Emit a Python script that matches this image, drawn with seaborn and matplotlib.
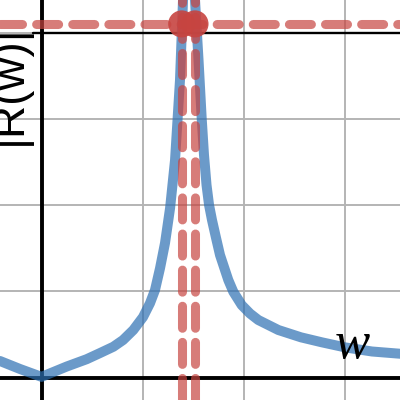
import matplotlib
matplotlib.use("Agg")
import matplotlib.pyplot as plt
import seaborn as sns

# curve |R(w)| (grid step = 1 in both directions)
w_vals = [-0.410, -0.212, 0.0, 0.249, 0.446, 0.577, 0.709, 0.805, 0.906, 1.002,
          1.071, 1.120, 1.170, 1.219, 1.269, 1.318, 1.367, 1.397, 1.451,
          1.515, 1.550, 1.581, 1.604, 1.629, 1.654, 1.683, 1.723, 1.762, 1.844,
          1.893, 1.976, 2.058, 2.140, 2.338, 2.562, 2.769, 2.996, 3.263, 3.539]
r_vals = [0.194, 0.101, 0.01, 0.130, 0.215, 0.286, 0.359, 0.437, 0.553, 0.703,
          0.864, 1.015, 1.270, 1.560, 1.965, 2.521, 3.450, 4.380, 4.724,
          4.377, 3.681, 3.009, 2.580, 2.232, 2.001, 1.827, 1.619, 1.422, 1.132,
          0.997, 0.842, 0.744, 0.669, 0.553, 0.468, 0.410, 0.352, 0.304, 0.278]

band_edges = [1.384, 1.515]   # vertical dashed lines / red points
peak_level = 4.10             # horizontal dashed line
cap_level = 4.0               # black horizontal line
cap_start = -0.08

x_grid = [1, 2, 3]
y_grid = [1, 2, 3, 4]

sns.set_style("white")
fig, ax = plt.subplots(figsize=(4, 4), dpi=100)
ax.set_position([0, 0, 1, 1])
ax.set_xlim(-0.41, 3.539)
ax.set_ylim(-0.258, 4.377)

ax.set_xticks(x_grid)
ax.set_yticks(y_grid)
ax.grid(True, color="#b4b4b4", lw=1.4)
ax.tick_params(length=0, labelbottom=False, labelleft=False)
for s in ax.spines.values():
    s.set_visible(False)

# axes
ax.axhline(0, color="black", lw=2.8, zorder=2)
ax.axvline(0, color="black", lw=2.8, zorder=2)
ax.plot([cap_start, 3.6], [cap_level, cap_level], color="black", lw=1.7, zorder=2)

sns.lineplot(x=w_vals, y=r_vals, sort=False, estimator=None, ax=ax,
             color="#2d70b3", alpha=0.7, lw=7.2, zorder=3,
             solid_capstyle="round", solid_joinstyle="round")

red = "#c74440"
ax.axhline(peak_level, color=red, alpha=0.7, lw=6.5, dashes=(2.44, 1.56),
           dash_capstyle="round", zorder=4)
for e in band_edges:
    ax.axvline(e, color=red, alpha=0.7, lw=6.5, dashes=(2.44, 1.56),
               dash_capstyle="round", zorder=4)

sns.scatterplot(x=band_edges, y=[peak_level] * len(band_edges), ax=ax,
                s=19.5 ** 2, color=red, alpha=0.9, edgecolor="none", zorder=5)

ax.text(3.065, 0.379, "w", fontsize=38, family="Liberation Serif", color="black",
        style="italic", ha="center", va="center", zorder=6)

fig.text(21 / 400, 1 - 145 / 400, "|R(w)|", rotation=90, rotation_mode="anchor",
         ha="left", va="baseline", fontsize=33, family="Liberation Sans",
         color="black")

fig.savefig("out.png", dpi=100)
